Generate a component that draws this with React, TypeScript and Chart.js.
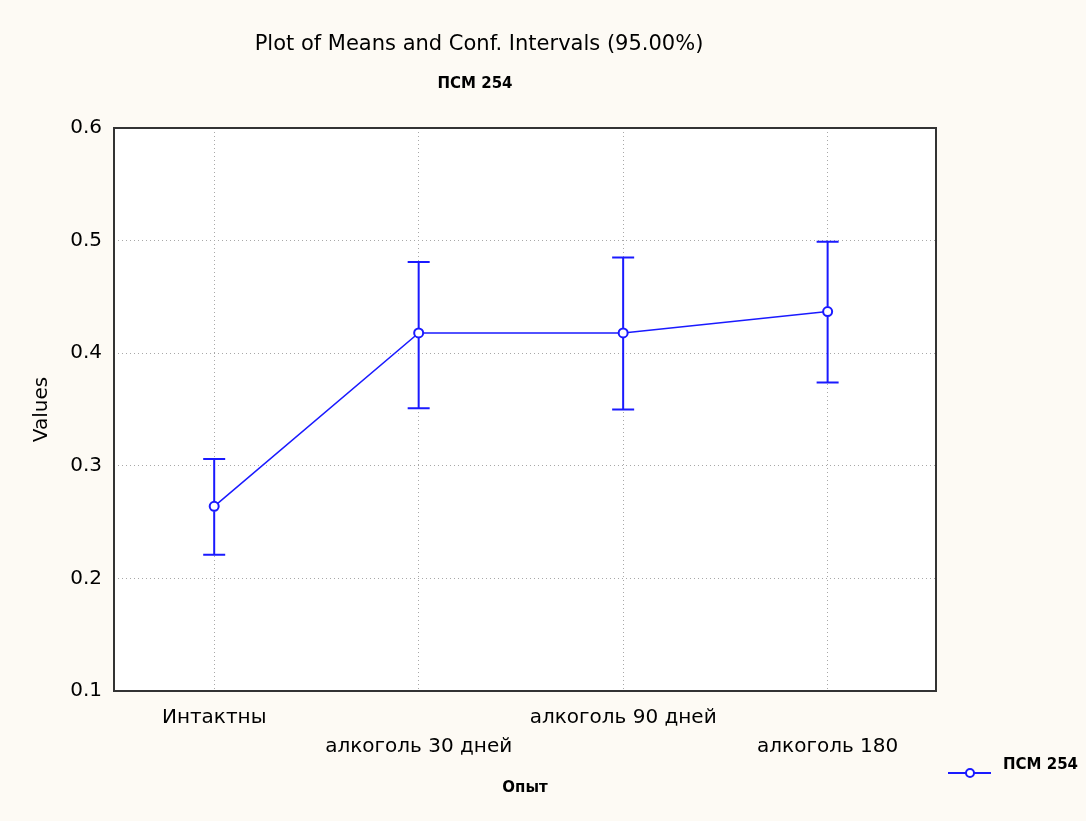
import React, { useEffect, useRef } from "react";
import { Chart, registerables } from "chart.js";

Chart.register(...registerables);

const categories = ["Интактны", "алкоголь 30 дней", "алкоголь 90 дней", "алкоголь 180"];
const means = [0.264, 0.418, 0.418, 0.437];
const upper = [0.306, 0.481, 0.485, 0.499];
const lower = [0.221, 0.351, 0.350, 0.374];
const yTicks = [0.1, 0.2, 0.3, 0.4, 0.5, 0.6];
const seriesName = "ПСМ 254";
const titleText = "Plot of Means and Conf. Intervals (95.00%)";
const subtitleText = "ПСМ 254";
const xTitle = "Опыт";
const yTitle = "Values";

const BLUE = "#1a1aff";
const FONT = '"DejaVu Sans", sans-serif';

export default function App() {
  const ref = useRef<HTMLCanvasElement>(null);
  useEffect(() => {
    if (!ref.current) return;
    const errorBars = {
      id: "errorBars",
      afterDatasetsDraw(chart: any) {
        const { ctx, scales } = chart;
        const xs = scales.x, ys = scales.y;
        ctx.save();
        ctx.strokeStyle = BLUE;
        ctx.lineWidth = 2;
        for (let i = 0; i < means.length; i++) {
          const px = xs.getPixelForValue(i);
          const pu = ys.getPixelForValue(upper[i]);
          const pl = ys.getPixelForValue(lower[i]);
          const pm = ys.getPixelForValue(means[i]);
          ctx.beginPath();
          ctx.moveTo(px, pu); ctx.lineTo(px, pm - 5);
          ctx.moveTo(px, pm + 5); ctx.lineTo(px, pl);
          ctx.moveTo(px - 11, pu); ctx.lineTo(px + 11, pu);
          ctx.moveTo(px - 11, pl); ctx.lineTo(px + 11, pl);
          ctx.stroke();
        }
        ctx.restore();
      },
    };
    const frame = {
      id: "frame",
      beforeDraw(chart: any) {
        const { ctx, chartArea: a } = chart;
        ctx.save();
        ctx.fillStyle = "#ffffff";
        ctx.fillRect(a.left, a.top, a.right - a.left, a.bottom - a.top);
        ctx.restore();
      },
      afterDraw(chart: any) {
        const { ctx, chartArea: a } = chart;
        ctx.save();
        ctx.strokeStyle = "#333333";
        ctx.lineWidth = 2;
        ctx.strokeRect(a.left, a.top, a.right - a.left, a.bottom - a.top);
        // titles
        ctx.fillStyle = "#000";
        ctx.textAlign = "center";
        ctx.textBaseline = "middle";
        ctx.font = `21px ${FONT}`;
        ctx.fillText(titleText, 479, 45);
        ctx.font = `bold 15px ${FONT}`;
        ctx.fillText(subtitleText, 475, 84);
        // legend
        ctx.strokeStyle = BLUE;
        ctx.lineWidth = 2;
        ctx.beginPath();
        ctx.moveTo(948, 773); ctx.lineTo(991, 773);
        ctx.stroke();
        ctx.beginPath();
        ctx.arc(970, 773, 4, 0, Math.PI * 2);
        ctx.fillStyle = "#fff";
        ctx.fill();
        ctx.stroke();
        ctx.fillStyle = "#000";
        ctx.textAlign = "left";
        ctx.font = `bold 15px ${FONT}`;
        ctx.fillText(seriesName, 1003, 765);
        ctx.restore();
      },
    };
    const chart = new Chart(ref.current, {
      type: "line",
      data: {
        datasets: [
          {
            label: seriesName,
            data: means.map((m, i) => ({ x: i, y: m })),
            borderColor: BLUE,
            borderWidth: 1.5,
            pointRadius: 4.5,
            pointBorderWidth: 2,
            pointBackgroundColor: "#ffffff",
            pointBorderColor: BLUE,
            tension: 0,
          },
        ],
      },
      options: {
        animation: false,
        responsive: false,
        layout: { padding: { left: 0, top: 128, right: 150, bottom: 0 } },
        plugins: { legend: { display: false }, tooltip: { enabled: false }, title: { display: false } },
        scales: {
          x: {
            type: "linear",
            min: -0.49,
            max: 3.53,
            afterBuildTicks(scale: any) {
              scale.ticks = categories.map((_, i) => ({ value: i }));
            },
            afterFit(scale: any) { scale.height = 130; },
            ticks: {
              color: "#000",
              padding: 12,
              maxRotation: 0,
              autoSkip: false,
              font: { family: FONT, size: 20, lineHeight: 1.45 },
              callback: (v: any) => {
                const i = Number(v);
                const s = categories[i];
                return i % 2 === 1 ? ["", s] : s;
              },
            },
            grid: { color: "#a8a8a8", drawTicks: false },
            border: { display: false, dash: [1, 3] },
            title: { display: true, text: xTitle, color: "#000", font: { family: FONT, size: 15, weight: "bold", lineHeight: 1.2 }, padding: { top: 0, bottom: 24 } },
          },
          y: {
            min: 0.1,
            max: 0.6,
            afterBuildTicks(scale: any) {
              scale.ticks = yTicks.map((v) => ({ value: v }));
            },
            afterFit(scale: any) { scale.width = 114; },
            ticks: {
              color: "#000",
              padding: 12,
              font: { family: FONT, size: 20 },
              callback: (v: any) => Number(v).toFixed(1),
            },
            grid: { color: "#a8a8a8", drawTicks: false },
            border: { display: false, dash: [1, 3] },
            title: { display: true, text: yTitle, color: "#000", font: { family: FONT, size: 20, lineHeight: 1.2 }, padding: { top: 30, bottom: 0 } },
          },
        },
      },
      plugins: [frame, errorBars],
    });
    return () => chart.destroy();
  }, []);
  return (
    <div style={{ position: "fixed", left: 0, top: 0, width: 1086, height: 821, background: "#fdfaf4" }}>
      <canvas ref={ref} width={1086} height={821} style={{ display: "block" }} />
    </div>
  );
}
